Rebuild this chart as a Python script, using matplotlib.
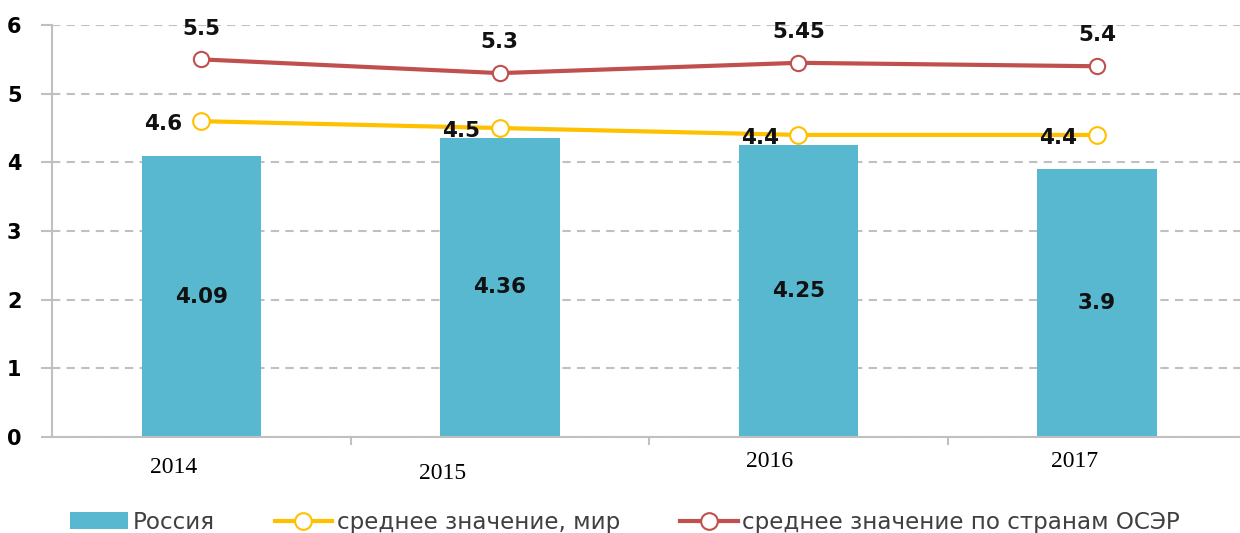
import matplotlib
matplotlib.use("Agg")
import matplotlib.pyplot as plt
import matplotlib.transforms as mtransforms
from matplotlib.lines import Line2D
from matplotlib.patches import Patch

years = ["2014", "2015", "2016", "2017"]
russia = [4.09, 4.36, 4.25, 3.9]
world = [4.6, 4.5, 4.4, 4.4]
oecd = [5.5, 5.3, 5.45, 5.4]
world_labels = ["4.6", "4.5", "4.4", "4.4"]
oecd_labels = ["5.5", "5.3", "5.45", "5.4"]
russia_labels = ["4.09", "4.36", "4.25", "3.9"]
legend_names = ["Россия", "среднее значение, мир", "среднее значение по странам ОСЭР"]

bar_c = "#57b8d0"
yel = "#ffc000"
red = "#c0504d"
grid_c = "#c0c0c0"

fig = plt.figure(figsize=(12.4, 5.33), dpi=100)
ax = fig.add_axes([0.042, 0.180, 0.963, 0.773])
x = list(range(len(years)))

ax.bar(x, russia, width=0.4, color=bar_c, zorder=2)
ax.plot(x, world, color=yel, lw=3, marker="o", ms=12, mfc="white", mec=yel, mew=1.5, zorder=3)
ax.plot(x, oecd, color=red, lw=3, marker="o", ms=11, mfc="white", mec=red, mew=1.5, zorder=3)

for xi, v, t in zip(x, russia, russia_labels):
    ax.text(xi, v / 2, t, ha="center", va="center", fontsize=15.5, fontweight="bold", color="#111111", zorder=4)
for xi, v, t in zip(x, oecd, oecd_labels):
    ax.annotate(t, (xi, v), xytext=(0, 15), textcoords="offset points", ha="center", va="bottom",
                fontsize=15.5, fontweight="bold", color="#111111")
for xi, v, t in zip(x, world, world_labels):
    ax.annotate(t, (xi, v), xytext=(-14, -2), textcoords="offset points", ha="right", va="center",
                fontsize=15.5, fontweight="bold", color="#111111", zorder=5)

ax.set_xlim(-0.5, 3.5)
ax.set_ylim(0, 6)
ax.set_yticks(range(0, 7))
ax.set_yticklabels([str(i) for i in range(0, 7)], fontsize=15, fontweight="bold")
ax.yaxis.grid(True, linestyle=(0, (4, 3)), color=grid_c, lw=1.5, zorder=0)
ax.set_axisbelow(True)
for s in ["top", "right"]:
    ax.spines[s].set_visible(False)
for s in ["left", "bottom"]:
    ax.spines[s].set_color(grid_c)
    ax.spines[s].set_linewidth(1.5)
ax.tick_params(axis="y", length=8, width=1.5, color=grid_c, pad=14)
ax.set_xticks(x)
ax.set_xticklabels(years, fontsize=17, family="Liberation Serif")
ax.tick_params(axis="x", length=0, pad=10)
ax.set_xticks([0.5, 1.5, 2.5], minor=True)
ax.tick_params(axis="x", which="minor", length=6, width=1.5, color=grid_c)

offsets = [(-20, -4), (-41, -9), (-21, 0), (-16, 0)]
for lab, (dx, dy) in zip(ax.get_xticklabels(), offsets):
    lab.set_transform(lab.get_transform() + mtransforms.ScaledTranslation(dx / 72, dy / 72, fig.dpi_scale_trans))

handles = [
    Patch(facecolor=bar_c, edgecolor="none"),
    Line2D([], [], color=yel, lw=3, marker="o", ms=12, mfc="white", mec=yel, mew=1.5),
    Line2D([], [], color=red, lw=3, marker="o", ms=12, mfc="white", mec=red, mew=1.5),
]
fig.legend(handles, legend_names, loc="lower left", bbox_to_anchor=(0.040, -0.040), ncol=3, frameon=False,
           fontsize=16.6, handlelength=2.5, handletextpad=0.2, columnspacing=2.6, labelcolor="#404040")

fig.savefig("out.png", dpi=100)
